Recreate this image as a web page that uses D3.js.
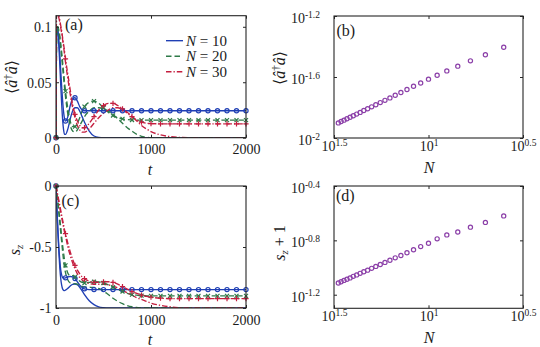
<!DOCTYPE html>
<html><head><meta charset="utf-8">
<script src="https://cdn.jsdelivr.net/npm/d3@7"></script>
<style>
body{margin:0;background:#fff}
svg{display:block}
svg text{font-family:"Liberation Serif","DejaVu Serif",serif !important;fill:#1a1a1a}
</style>
</head><body>
<svg id="chart" width="540" height="347" font-family="Liberation Serif, serif"></svg>
<script>
// ---------- DATA ----------
const tGrid = [0,5,10, 20,30,40,50,60,70,80,90,100, 125,150,175,200,225,250,275,300,
  350,400,450,500,550,600,650,700,750,800,850,900,950,1000,
  1100,1200,1300,1400,1500,1600,1700,1800,1900,2000];

// panel (a): <a^dagger a>
const aBlueMarked = [0,0.09,0.1, 0.097,0.088,0.075,0.06,0.046,0.033,0.023,0.017,0.015,
  0.019,0.029,0.035,0.036,0.033,0.028,0.025,0.0243,
  0.0243,0.0243,0.0243,0.0243,0.0243,0.0243,0.0243,0.0243,0.0243,0.0243,0.0243,0.0243,0.0243,0.0243,
  0.0243,0.0243,0.0243,0.0243,0.0243,0.0243,0.0243,0.0243,0.0243,0.0243];
const aBlueDecay = [0,0.09,0.1, 0.095,0.083,0.066,0.047,0.03,0.016,0.007,0.003,0.003,
  0.008,0.017,0.024,0.027,0.027,0.024,0.019,0.014,
  0.006,0.0015,0.0003,0,0,0,0,0,0,0,0,0,0,0,
  0,0,0,0,0,0,0,0,0,0];
const aGreenMarked = [0,0.08,0.1, 0.1,0.097,0.092,0.085,0.077,0.068,0.059,0.05,0.042,
  0.026,0.015,0.01,0.01,0.013,0.018,0.024,0.028,
  0.032,0.033,0.031,0.027,0.023,0.02,0.018,0.017,0.0163,0.016,0.0158,0.0158,0.0158,0.0158,
  0.0158,0.0158,0.0158,0.0158,0.0158,0.0158,0.0158,0.0158,0.0158,0.0158];
const aGreenDecay = [0,0.08,0.1, 0.099,0.095,0.089,0.081,0.072,0.063,0.054,0.045,0.037,
  0.021,0.011,0.006,0.005,0.007,0.011,0.015,0.019,
  0.024,0.027,0.027,0.026,0.024,0.021,0.017,0.013,0.009,0.006,0.003,0.0012,0.0004,0,
  0,0,0,0,0,0,0,0,0,0];
const aRedMarked = [0,0.11,0.115, 0.113,0.11,0.106,0.101,0.096,0.09,0.084,0.078,0.071,
  0.057,0.043,0.03,0.021,0.015,0.011,0.009,0.009,
  0.013,0.019,0.025,0.029,0.031,0.031,0.029,0.026,0.022,0.019,0.016,0.014,0.013,0.0127,
  0.0125,0.0124,0.0124,0.0124,0.0124,0.0124,0.0124,0.0124,0.0124,0.0124];
const aRedDecay = [0,0.11,0.113, 0.111,0.108,0.104,0.099,0.094,0.088,0.082,0.075,0.068,
  0.053,0.039,0.027,0.018,0.011,0.007,0.005,0.005,
  0.008,0.013,0.018,0.022,0.025,0.027,0.027,0.0255,0.023,0.019,0.015,0.011,0.008,0.0055,
  0.0025,0.001,0.0003,0,0,0,0,0,0,0];

// panel (c): s_z
const cBlueMarked = [0,-0.1,-0.19, -0.36,-0.5,-0.61,-0.69,-0.73,-0.75,-0.755,-0.755,-0.753,
  -0.745,-0.742,-0.745,-0.758,-0.785,-0.812,-0.832,-0.843,
  -0.849,-0.849,-0.849,-0.849,-0.849,-0.849,-0.849,-0.849,-0.849,-0.849,-0.849,-0.849,-0.849,-0.849,
  -0.849,-0.849,-0.849,-0.849,-0.849,-0.849,-0.849,-0.849,-0.849,-0.849];
const cBlueDecay = [0,-0.1,-0.2, -0.38,-0.54,-0.67,-0.76,-0.815,-0.845,-0.855,-0.857,-0.853,
  -0.838,-0.82,-0.806,-0.803,-0.81,-0.83,-0.86,-0.89,
  -0.94,-0.972,-0.99,-0.997,-1,-1,-1,-1,-1,-1,-1,-1,-1,-1,
  -1,-1,-1,-1,-1,-1,-1,-1,-1,-1];
const cGreenMarked = [0,-0.03,-0.06, -0.13,-0.2,-0.27,-0.34,-0.42,-0.49,-0.55,-0.61,-0.65,
  -0.715,-0.735,-0.735,-0.745,-0.765,-0.78,-0.79,-0.795,
  -0.79,-0.785,-0.787,-0.795,-0.81,-0.83,-0.85,-0.865,-0.88,-0.89,-0.895,-0.899,-0.9,-0.901,
  -0.901,-0.901,-0.901,-0.901,-0.901,-0.901,-0.901,-0.901,-0.901,-0.901];
const cGreenDecay = [0,-0.03,-0.065, -0.14,-0.22,-0.3,-0.38,-0.46,-0.54,-0.61,-0.67,-0.71,
  -0.77,-0.795,-0.8,-0.8,-0.805,-0.815,-0.823,-0.828,
  -0.83,-0.832,-0.84,-0.86,-0.89,-0.92,-0.945,-0.965,-0.98,-0.99,-0.996,-1,-1,-1,
  -1,-1,-1,-1,-1,-1,-1,-1,-1,-1];
const cRedMarked = [0,-0.02,-0.04, -0.08,-0.12,-0.16,-0.2,-0.24,-0.28,-0.32,-0.36,-0.39,
  -0.47,-0.54,-0.6,-0.65,-0.69,-0.72,-0.745,-0.76,
  -0.78,-0.79,-0.788,-0.785,-0.785,-0.79,-0.805,-0.825,-0.845,-0.865,-0.88,-0.895,-0.905,-0.912,
  -0.92,-0.923,-0.923,-0.923,-0.923,-0.923,-0.923,-0.923,-0.923,-0.923];
const cRedDecay = [0,-0.02,-0.045, -0.09,-0.135,-0.18,-0.22,-0.26,-0.3,-0.34,-0.38,-0.41,
  -0.5,-0.57,-0.63,-0.68,-0.72,-0.75,-0.77,-0.785,
  -0.8,-0.805,-0.805,-0.805,-0.81,-0.82,-0.835,-0.855,-0.875,-0.895,-0.915,-0.93,-0.945,-0.96,
  -0.978,-0.99,-0.997,-1,-1,-1,-1,-1,-1,-1];

// panels (b),(d): steady state vs N
const nValues = [4,5,6,7,8,9,10,11,12,13,14,15,16,17,18,19,20,21,22,23,24,25,26,27,28,29,30];
const bSteady = [0.03936,0.03516,0.03206,0.02958,0.02754,0.02582,0.02432,0.02296,0.02183,0.02080,
  0.01986,0.01905,0.01832,0.01766,0.01706,0.01652,0.01600,0.01556,0.01514,0.01472,
  0.01435,0.01400,0.01368,0.01337,0.01309,0.01282,0.01256];
const dSteady = [0.2399,0.2148,0.1982,0.1828,0.1738,0.1626,0.1510,0.1426,0.1352,0.1285,
  0.1227,0.1178,0.1132,0.1091,0.1052,0.1019,0.0986,0.0957,0.0931,0.0906,
  0.0883,0.0861,0.0839,0.0820,0.0804,0.0785,0.0769];

const legendLabels = ["10","20","30"];
const timeTicks = [0,1000,2000];
const aYTicks = [0, 0.05, 0.1];
const aYTickLabels = ["0","0.05","0.1"];
const cYTicks = [-1,-0.5,0];
const cYTickLabels = ["-1","-0.5","0"];
const logXExp = [1.5, 1, 0.5];
const logXExpLabels = ["1.5","1","0.5"];
const bYExp = [-2, -1.6, -1.2];
const bYExpLabels = ["-2","-1.6","-1.2"];
const dYExp = [-1.2, -0.8, -0.4];
const dYExpLabels = ["-1.2","-0.8","-0.4"];

// ---------- STYLE ----------
const FONT = "Liberation Serif, DejaVu Serif, serif";
const COL = {blue:"#1f3fb4", green:"#2e7a48", red:"#c41e3f", purple:"#8b3fa8", axis:"#262626"};
const DASH = {blue:null, green:"5.5,3", red:"5.5,2,1.3,2"};
const LW = 1.35;
const svg = d3.select("#chart");
const TICK = 3;

function box(g, x, y){
  const [x0,x1] = x.range(), [y0,y1] = y.range();
  g.append("rect").attr("x",Math.min(x0,x1)).attr("y",Math.min(y0,y1))
    .attr("width",Math.abs(x1-x0)).attr("height",Math.abs(y1-y0))
    .attr("fill","none").attr("stroke",COL.axis).attr("stroke-width",1.1);
}
function styleAxis(sel){
  sel.attr("font-family",FONT).attr("font-size",14);
  sel.select(".domain").remove();
  sel.selectAll(".tick line").attr("stroke",COL.axis).attr("stroke-width",1);
  sel.selectAll("text").attr("fill","#1a1a1a").attr("font-family",FONT).attr("font-size","14px");
}
function mirrorAxes(g, x, y, xt, yt){
  const [x0,x1] = x.range(), [y0,y1] = y.range();
  g.append("g").attr("transform",`translate(0,${Math.min(y0,y1)})`)
    .call(d3.axisTop(x).tickValues(xt).tickSizeInner(-TICK).tickSizeOuter(0).tickFormat(""))
    .call(styleAxis);
  g.append("g").attr("transform",`translate(${Math.max(x0,x1)},0)`)
    .call(d3.axisRight(y).tickValues(yt).tickSizeInner(-TICK).tickSizeOuter(0).tickFormat(""))
    .call(styleAxis);
}
function supLabels(sel, labels){
  sel.selectAll("text").each(function(d,i){
    const t = d3.select(this); t.text("");
    t.append("tspan").text("10");
    t.append("tspan").attr("dy",-5.5).attr("font-size","9.5px").text(labels[i]);
  });
}

// ---------- TIME PANELS ----------
function timePanel(id, yDomain, yRange, yTicks, yTickLabels, series){
  const g = svg.append("g");
  const x = d3.scaleLinear().domain([0,2000]).range([56,246]);
  const y = d3.scaleLinear().domain(yDomain).range(yRange);
  const clipId = "clip"+id;
  g.append("clipPath").attr("id",clipId).append("rect")
    .attr("x",56).attr("y",yRange[1]).attr("width",190).attr("height",yRange[0]-yRange[1]);
  const idx = tGrid.map((d,i)=>i);
  series.forEach(s=>{
    const line = d3.line().x(i=>x(tGrid[i])).y(i=>y(s.values[i])).curve(d3.curveMonotoneX);
    g.append("path").attr("d", line(idx)).attr("fill","none")
      .attr("stroke",COL[s.c]).attr("stroke-width",LW)
      .attr("stroke-dasharray",DASH[s.c]).attr("clip-path",`url(#${clipId})`);
  });
  // markers every 100 time units on the marked curves
  series.filter(s=>s.marker).forEach(s=>{
    const mk = idx.filter(i=>tGrid[i]%100===0);
    const m = g.append("g").attr("fill","none").attr("stroke",COL[s.c]).attr("stroke-width",1.2);
    mk.forEach(i=>{
      const px = x(tGrid[i]), py = y(s.values[i]);
      if(s.marker==="o") m.append("circle").attr("cx",px).attr("cy",py).attr("r",2.1);
      else if(s.marker==="x") m.append("path").attr("d",`M${px-2},${py-2}L${px+2},${py+2}M${px-2},${py+2}L${px+2},${py-2}`);
      else m.append("path").attr("d",`M${px-2.6},${py}L${px+2.6},${py}M${px},${py-2.6}L${px},${py+2.6}`);
    });
  });
  box(g,x,y);
  const gx = g.append("g").attr("transform",`translate(0,${yRange[0]})`)
    .call(d3.axisBottom(x).tickValues(timeTicks).tickSizeInner(-TICK).tickSizeOuter(0).tickFormat(d3.format("d")))
    .call(styleAxis);
  gx.selectAll("text").attr("y",16.5).attr("dy","0");
  const gy = g.append("g").attr("transform","translate(56,0)")
    .call(d3.axisLeft(y).tickValues(yTicks).tickSizeInner(-TICK).tickSizeOuter(0).tickFormat((d,i)=>yTickLabels[i]))
    .call(styleAxis);
  gy.selectAll("text").attr("x",-4.5).attr("dy","0.34em");
  mirrorAxes(g,x,y,timeTicks,yTicks);
  g.append("text").attr("x",150).attr("y",yRange[0]+37).attr("text-anchor","middle")
    .attr("font-family",FONT).attr("font-size","16px").attr("font-style","italic").text("t");
  return g;
}

const gA = timePanel("a",[0,0.11],[137.7,15.7],aYTicks,aYTickLabels,[
  {values:aBlueDecay,c:"blue"},{values:aBlueMarked,c:"blue",marker:"o"},
  {values:aGreenDecay,c:"green"},{values:aGreenMarked,c:"green",marker:"x"},
  {values:aRedDecay,c:"red"},{values:aRedMarked,c:"red",marker:"+"}]);
const gC = timePanel("c",[-1,0],[308,186],cYTicks,cYTickLabels,[
  {values:cBlueDecay,c:"blue"},{values:cBlueMarked,c:"blue",marker:"o"},
  {values:cGreenDecay,c:"green"},{values:cGreenMarked,c:"green",marker:"x"},
  {values:cRedDecay,c:"red"},{values:cRedMarked,c:"red",marker:"+"}]);

// legend in (a)
["blue","green","red"].forEach((c,i)=>{
  const yy = 40.7 + i*15.5;
  gA.append("line").attr("x1",166).attr("x2",183).attr("y1",yy).attr("y2",yy)
    .attr("stroke",COL[c]).attr("stroke-width",LW).attr("stroke-dasharray",DASH[c]);
  const t = gA.append("text").attr("x",186).attr("y",yy+5).attr("font-family",FONT).attr("font-size","15px");
  t.append("tspan").attr("font-style","italic").text("N");
  t.append("tspan").text(" = "+legendLabels[i]);
});

// y labels
function braketLabel(tx,ty){
  const t = svg.append("text").attr("transform",`translate(${tx},${ty}) rotate(-90)`)
    .attr("text-anchor","middle").attr("font-family",FONT).attr("font-size","16px");
  t.append("tspan").text("⟨");
  t.append("tspan").attr("font-style","italic").text("â");
  t.append("tspan").attr("dy",-6).attr("font-size","11px").text("†");
  t.append("tspan").attr("dy",6).attr("font-style","italic").text("â");
  t.append("tspan").text("⟩");
}
function szLabel(tx,ty,extra){
  const t = svg.append("text").attr("transform",`translate(${tx},${ty}) rotate(-90)`)
    .attr("text-anchor","middle").attr("font-family",FONT).attr("font-size","16px");
  t.append("tspan").attr("font-style","italic").text("s");
  t.append("tspan").attr("dy",3).attr("font-size","11px").attr("font-style","italic").text("z");
  if(extra) t.append("tspan").attr("dy",-3).text(extra);
}
braketLabel(17,77);
szLabel(20,250,null);

// ---------- LOG PANELS ----------
function logPanel(yDomainExp, yRange, yExp, yExpLabels, values){
  const g = svg.append("g");
  const x = d3.scaleLog().domain([10**1.5, 10**0.5]).range([334,523]);
  const y = d3.scaleLog().domain([10**yDomainExp[0], 10**yDomainExp[1]]).range(yRange);
  const xt = logXExp.map(e=>10**e), yt = yExp.map(e=>10**e);
  g.append("g").selectAll("circle").data(nValues).join("circle")
    .attr("cx",d=>x(d)).attr("cy",(d,i)=>y(values[i])).attr("r",2.1)
    .attr("fill","none").attr("stroke",COL.purple).attr("stroke-width",1.2);
  box(g,x,y);
  const gx = g.append("g").attr("transform",`translate(0,${yRange[0]})`)
    .call(d3.axisBottom(x).tickValues(xt).tickSizeInner(-TICK).tickSizeOuter(0))
    .call(styleAxis);
  gx.selectAll("text").attr("y",13).attr("dy","0");
  supLabels(gx, logXExpLabels);
  const gy = g.append("g").attr("transform","translate(334,0)")
    .call(d3.axisLeft(y).tickValues(yt).tickSizeInner(-TICK).tickSizeOuter(0))
    .call(styleAxis);
  gy.selectAll("text").attr("x",-14).attr("y",6.5).attr("dy","0");
  supLabels(gy, yExpLabels);
  mirrorAxes(g,x,y,xt,yt);
  g.append("text").attr("x",429).attr("y",yRange[0]+35).attr("text-anchor","middle")
    .attr("font-family",FONT).attr("font-size","16px").attr("font-style","italic").text("N");
  return g;
}
const gB = logPanel([-2,-1.2],[138,16],bYExp,bYExpLabels,bSteady);
const gD = logPanel([-1.3,-0.4],[308.3,186],dYExp,dYExpLabels,dSteady);

braketLabel(285,68);
szLabel(285,243," + 1");

// panel letters
[["(a)",65,30],["(b)",336.5,36],["(c)",61.5,206],["(d)",336,201]].forEach(([s,px,py])=>{
  svg.append("text").attr("x",px).attr("y",py).attr("font-family",FONT).attr("font-size","16px").text(s);
});
</script>
</body></html>
